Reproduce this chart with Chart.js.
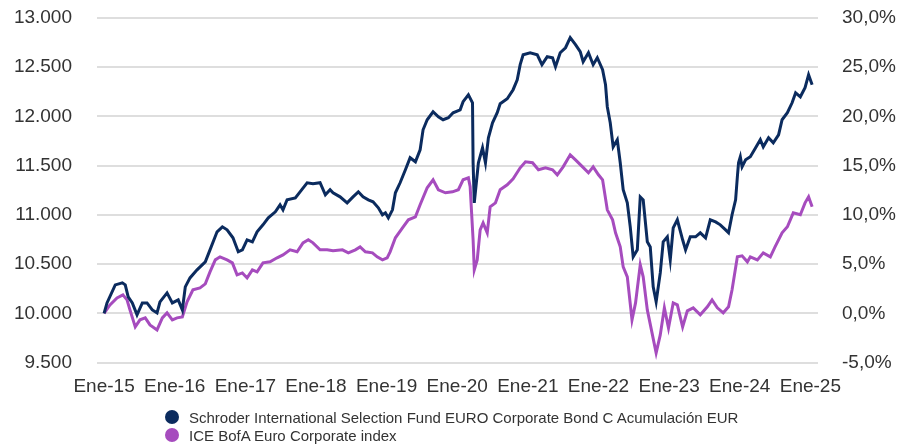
<!DOCTYPE html>
<html>
<head>
<meta charset="utf-8">
<script src="https://cdn.jsdelivr.net/npm/chart.js@4"></script>
<style>
  body { margin: 0; background: #fff; }
  #wrap { position: relative; width: 898px; height: 445px; }
  #legend { position: absolute; left: 165px; top: 408px; font: 15px "Liberation Sans", Arial, sans-serif; color: #333; }
  .item { display: flex; align-items: center; height: 18px; white-space: nowrap; }
  .dot { width: 14px; height: 14px; border-radius: 50%; margin-right: 10px; }
</style>
</head>
<body>
<div id="wrap">
  <canvas id="chart" width="898" height="445"></canvas>
  <div id="legend"></div>
</div>
<script>
// months counted from Jan 2015
const fundMonths = [0,0.5,1.9,3.1,3.6,4.1,4.8,5.6,6.5,7.3,8.2,9.0,9.5,10.7,11.6,12.6,13.3,13.8,14.6,15.8,17.2,18.0,19.2,20.1,20.9,21.9,22.8,23.5,24.3,25.2,26.0,27.0,27.9,29.1,29.9,30.4,31.1,32.5,33.3,34.5,35.5,36.7,37.6,38.4,38.9,40.1,41.3,42.3,43.2,44.0,44.9,45.7,46.6,47.3,47.8,48.3,49.0,49.5,50.3,51.2,52.0,52.9,53.7,54.2,54.9,55.9,56.8,57.6,58.5,59.3,60.5,61.0,61.9,62.6,62.7,62.9,63.6,64.3,64.8,65.3,66.0,66.8,67.3,68.5,69.5,70.2,70.7,71.2,72.4,73.6,74.4,75.3,76.2,76.7,77.5,78.4,79.2,80.1,80.9,81.4,82.3,83.1,83.8,84.7,85.2,85.5,86.0,86.5,87.2,87.7,88.2,88.9,89.4,89.9,90.6,91.1,91.6,92.3,92.8,93.3,93.8,94.5,95.0,95.7,96.2,96.7,97.4,98.3,98.8,99.6,100.5,101.3,102.2,103.0,103.9,104.7,105.6,106.1,106.7,107.3,107.6,107.8,108.1,108.4,109.0,109.8,110.7,111.5,112.0,112.9,113.7,114.6,115.2,116.1,116.9,117.5,118.3,119.1,119.7,120.3];
const fundValues = [10000,10107,10290,10311,10290,10168,10107,9986,10107,10107,10036,10006,10118,10209,10107,10138,10036,10270,10361,10443,10524,10646,10829,10880,10849,10768,10626,10646,10748,10727,10829,10900,10971,11032,11103,11052,11154,11174,11235,11327,11316,11327,11205,11256,11225,11184,11123,11184,11235,11184,11154,11134,11073,11002,11022,10971,11052,11225,11327,11459,11581,11540,11662,11865,11967,12048,11997,11967,11987,12038,12068,12150,12221,12139,11530,11123,11530,11682,11530,11784,11936,12038,12129,12180,12272,12373,12526,12627,12647,12627,12526,12607,12597,12505,12647,12698,12800,12729,12658,12556,12647,12526,12597,12475,12322,12099,11936,11692,11764,11530,11256,11123,10880,10575,10646,11184,11154,10727,10676,10270,10118,10412,10727,10778,10544,10869,10951,10748,10646,10778,10778,10819,10768,10951,10930,10900,10849,10819,11002,11154,11388,11530,11591,11489,11560,11591,11682,11764,11692,11784,11733,11814,11967,12038,12139,12241,12200,12292,12424,12322];

const indexMonths = [0,1.0,2.2,3.2,3.9,4.4,5.3,6.1,7.0,7.8,9.0,9.9,10.7,11.6,12.4,13.3,14.1,15.1,16.3,17.2,18.0,18.9,19.7,20.9,21.8,22.6,23.5,24.3,25.2,26.0,27.0,28.2,29.4,30.4,31.6,32.8,33.8,34.7,35.5,36.7,37.9,38.9,40.5,41.5,42.7,43.5,44.4,45.6,46.4,47.3,48.1,48.6,49.5,50.7,51.7,52.9,53.7,54.9,55.9,56.8,58.0,59.2,60.2,61.0,61.9,62.2,62.7,62.9,63.4,63.9,64.4,65.1,65.6,66.5,67.3,68.5,69.5,70.7,71.6,72.8,73.8,75.0,76.2,77.0,78.0,79.2,80.1,81.3,82.3,83.1,84.0,84.7,85.5,86.4,86.9,87.7,88.2,88.9,89.7,90.3,91.1,91.6,92.3,93.1,93.8,94.5,95.2,95.9,96.7,97.4,98.3,99.1,100.1,101.3,102.5,103.3,104.2,105.2,106.1,106.7,107.6,108.4,109.3,109.8,111.0,112.0,113.2,114.0,115.2,116.1,117.1,118.3,119.1,119.7,120.3];
const indexValues = [10000,10087,10158,10189,10138,10036,9864,9935,9955,9884,9833,9955,10006,9935,9955,9965,10118,10240,10260,10300,10422,10544,10575,10544,10514,10392,10412,10361,10443,10422,10514,10524,10565,10595,10646,10626,10717,10748,10717,10646,10646,10636,10646,10615,10646,10676,10626,10615,10575,10544,10565,10626,10768,10869,10951,10981,11103,11276,11357,11256,11225,11235,11256,11357,11377,11286,10748,10443,10544,10849,10920,10819,11083,11123,11256,11306,11367,11479,11540,11530,11459,11479,11459,11408,11489,11611,11560,11489,11428,11489,11408,11357,11052,10951,10819,10676,10473,10372,9935,10107,10494,10372,10036,9803,9599,9782,10057,9853,10107,10087,9864,10026,10057,9986,10067,10138,10057,10006,10067,10240,10575,10585,10524,10575,10544,10615,10575,10676,10819,10880,11022,11002,11123,11184,11083];

const yearTicks = [0,12,24,36,48,60,72,84,96,108,120];
const yearLabels = ["Ene-15","Ene-16","Ene-17","Ene-18","Ene-19","Ene-20","Ene-21","Ene-22","Ene-23","Ene-24","Ene-25"];
const seriesNames = ["Schroder International Selection Fund EURO Corporate Bond C Acumulación EUR", "ICE BofA Euro Corporate index"];
const seriesColors = ["#0b2b5e", "#a64cbe"];

const font = { family: "'Liberation Sans', Arial, sans-serif", size: 19 };
const tickColor = "#333333";

function toPoints(xs, ys) {
  return xs.map((m, i) => ({ x: m, y: ys[i] }));
}

function fmtThousands(v) {
  return String(v).replace(/\B(?=(\d{3})+(?!\d))/g, ".");
}

// keep the plot box fixed, labels may overflow
function fixY(width) {
  return (scale) => {
    scale.width = width;
    scale.paddingTop = 0;
    scale.paddingBottom = 0;
  };
}

new Chart(document.getElementById("chart"), {
  type: "line",
  data: {
    datasets: [
      { label: seriesNames[0], data: toPoints(fundMonths, fundValues), borderColor: seriesColors[0], borderWidth: 3, pointRadius: 0, tension: 0, yAxisID: "y" },
      { label: seriesNames[1], data: toPoints(indexMonths, indexValues), borderColor: seriesColors[1], borderWidth: 3, pointRadius: 0, tension: 0, yAxisID: "y" }
    ]
  },
  options: {
    responsive: false,
    animation: false,
    layout: { padding: { top: 18, left: 0, right: 0, bottom: 0 } },
    plugins: { legend: { display: false }, tooltip: { enabled: false } },
    scales: {
      x: {
        type: "linear",
        min: -1.2,
        max: 121.3,
        grid: { display: false },
        border: { display: false },
        afterBuildTicks: (scale) => { scale.ticks = yearTicks.map(v => ({ value: v })); },
        afterFit: (scale) => { scale.height = 445 - 362.7; },
        ticks: {
          autoSkip: false,
          maxRotation: 0,
          padding: 5,
          color: tickColor,
          font: font,
          callback: (v) => yearLabels[yearTicks.indexOf(v)]
        }
      },
      y: {
        position: "left",
        min: 9500,
        max: 13000,
        afterFit: fixY(97),
        grid: { color: "#dedede", lineWidth: 2, drawTicks: false },
        border: { display: false },
        ticks: { stepSize: 500, padding: 25, color: tickColor, font: font, callback: (v) => fmtThousands(v) }
      },
      y2: {
        position: "right",
        min: -5,
        max: 30,
        afterFit: fixY(80),
        grid: { display: false, drawTicks: false },
        border: { display: false },
        ticks: { stepSize: 5, padding: 24, color: tickColor, font: font, callback: (v) => v.toFixed(1).replace(".", ",") + "%" }
      }
    }
  }
});

// Legend below the plot
const legend = document.getElementById("legend");
seriesNames.forEach((name, i) => {
  const row = document.createElement("div");
  row.className = "item";
  row.innerHTML = `<span class="dot" style="background:${seriesColors[i]}"></span><span>${name}</span>`;
  legend.appendChild(row);
});
</script>
</body>
</html>
